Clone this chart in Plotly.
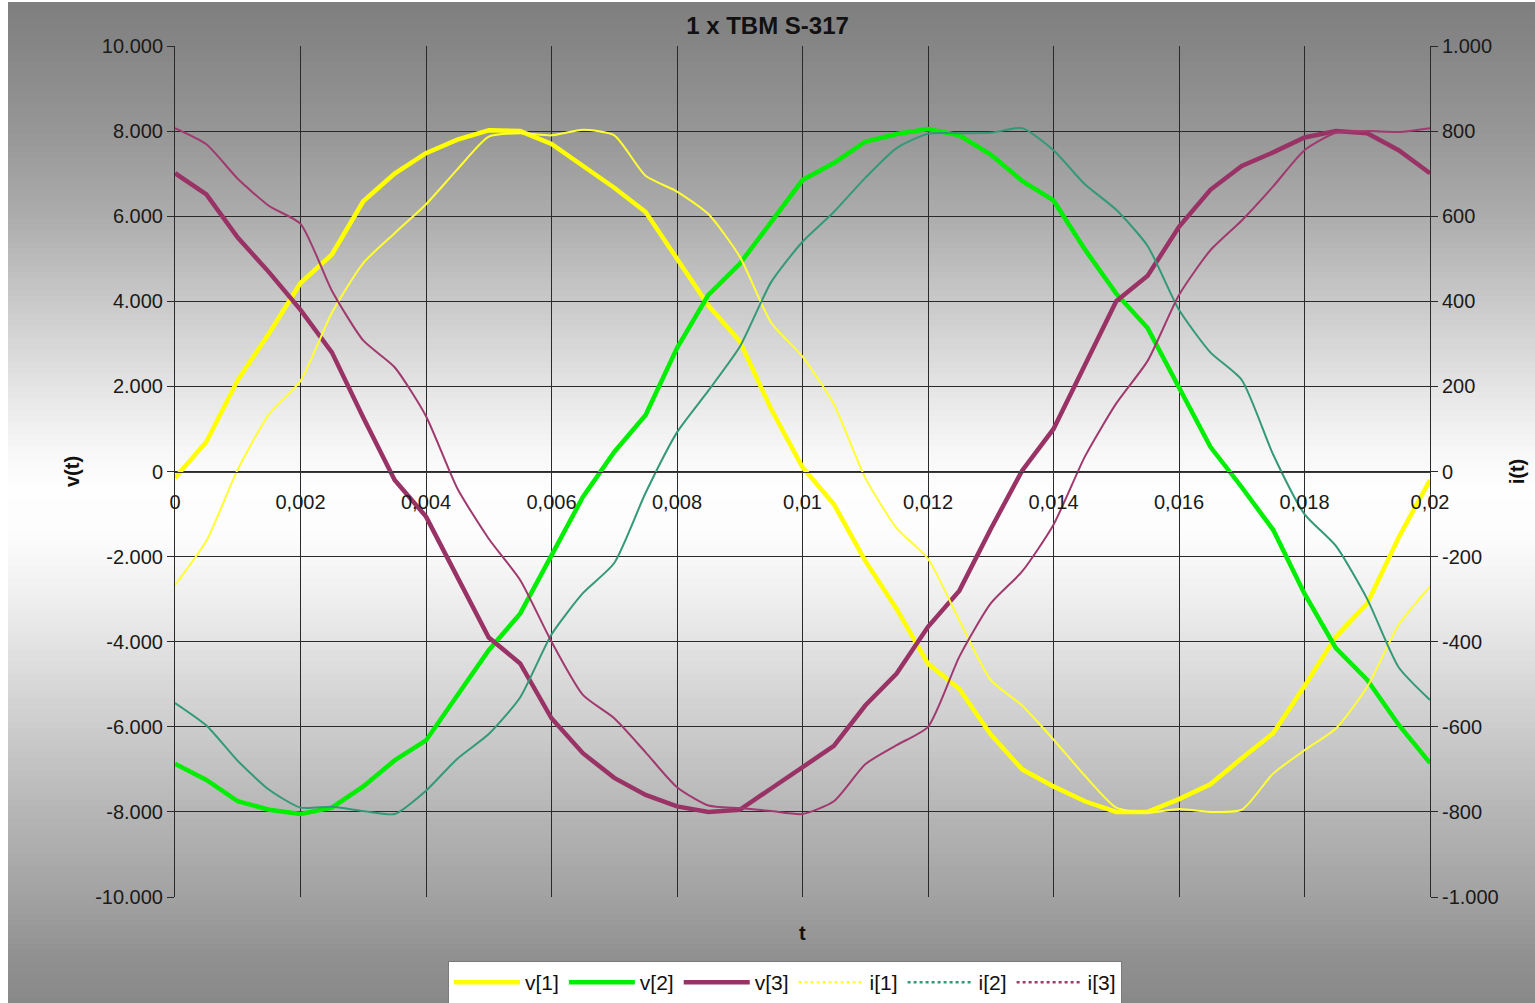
import plotly.graph_objects as go

# ---------------- data ----------------
t = [i * 0.0005 for i in range(41)]

v1 = [-150, 700, 2150, 3250, 4430, 5100, 6350, 7000, 7480, 7800, 8020,
      8000, 7700, 7200, 6670, 6100, 4980, 3900, 3060, 1470, 100,
      -770, -2100, -3230, -4520, -5110, -6180, -7000, -7400, -7750, -8000,
      -8000, -7700, -7350, -6740, -6150, -5040, -3880, -3100, -1550, -200]

v2 = [-6870, -7250, -7750, -7950, -8050, -7900, -7400, -6790, -6320, -5240, -4200,
      -3340, -1950, -600, 460, 1330, 2900, 4150, 4880, 5880, 6850,
      7250, 7750, 7930, 8050, 7900, 7450, 6830, 6370, 5220, 4180,
      3370, 1950, 580, -370, -1370, -2870, -4150, -4900, -5950, -6850]

v3 = [7010, 6510, 5500, 4680, 3800, 2800, 1270, -200, -1060, -2480, -3900,
      -4510, -5800, -6620, -7200, -7600, -7870, -8000, -7950, -7450, -6950,
      -6450, -5500, -4750, -3650, -2800, -1350, 20, 1000, 2500, 4000,
      4600, 5750, 6620, 7180, 7500, 7850, 8000, 7950, 7550, 7010]

i1 = [-267, -163, 5, 135, 213, 373, 490, 560, 628, 710, 787,
      795, 790, 803, 790, 695, 658, 605, 505, 350, 270,
      158, -15, -133, -205, -350, -490, -550, -630, -715, -790,
      -802, -793, -800, -795, -710, -655, -604, -506, -360, -270]

i2 = [-544, -597, -680, -748, -790, -788, -798, -805, -750, -675, -617,
      -531, -383, -286, -215, -50, 92, 190, 293, 445, 540,
      610, 690, 760, 794, 795, 796, 807, 755, 675, 615,
      530, 380, 280, 215, 40, -100, -175, -300, -460, -537]

i3 = [807, 769, 688, 624, 582, 425, 308, 245, 130, -40, -158,
      -255, -400, -525, -580, -660, -742, -785, -791, -798, -805,
      -775, -688, -643, -600, -435, -310, -235, -125, 35, 160,
      260, 415, 520, 590, 670, 755, 796, 800, 798, 807]

x_ticks = [0, 0.002, 0.004, 0.006, 0.008, 0.01, 0.012, 0.014, 0.016, 0.018, 0.02]
x_labels = ["0", "0,002", "0,004", "0,006", "0,008", "0,01", "0,012", "0,014", "0,016", "0,018", "0,02"]
v_ticks = [-10000, -8000, -6000, -4000, -2000, 0, 2000, 4000, 6000, 8000, 10000]
v_labels = ["-10.000", "-8.000", "-6.000", "-4.000", "-2.000", "0", "2.000", "4.000", "6.000", "8.000", "10.000"]
i_ticks = [-1000, -800, -600, -400, -200, 0, 200, 400, 600, 800, 1000]
i_labels = ["-1.000", "-800", "-600", "-400", "-200", "0", "200", "400", "600", "800", "1.000"]

v_names = ["v[1]", "v[2]", "v[3]"]
i_names = ["i[1]", "i[2]", "i[3]"]

# ---------------- styling ----------------
W, H = 1535, 1003
L, R, T, B = 175, 1430, 46, 897
FONT = "Liberation Sans, Arial, sans-serif"

v_colors = ["#ffff00", "#00ee00", "#993366"]
i_colors = ["#ffff33", "#339977", "#a03a6e"]

fig = go.Figure()

for name, ys, c in zip(v_names, [v1, v2, v3], v_colors):
    fig.add_trace(go.Scatter(x=t, y=ys, name=name, mode="lines",
                             line=dict(color=c, width=4.5), yaxis="y"))

for name, ys, c in zip(i_names, [i1, i2, i3], i_colors):
    fig.add_trace(go.Scatter(x=t, y=ys, name=name, mode="lines", showlegend=False,
                             line=dict(color=c, width=2, shape="spline", smoothing=0.6),
                             yaxis="y2"))
# legend entries for the current series (dotted sample, as in the reference legend)
for name, c in zip(i_names, i_colors):
    fig.add_trace(go.Scatter(x=[None], y=[None], name=name, mode="lines",
                             line=dict(color=c, width=2.5, dash="dot"), yaxis="y2"))

# ---------------- background gradient (bands) ----------------
prof = [(0, 126), (46, 134), (130, 150), (215, 172), (300, 200), (385, 228), (450, 247),
        (490, 254), (540, 252), (600, 238), (640, 228), (725, 205), (810, 182),
        (897, 162), (950, 146), (1003, 136)]


def gray(p):
    for (a, ga), (b, gb) in zip(prof[:-1], prof[1:]):
        if a <= p <= b:
            return ga + (gb - ga) * (p - a) / (b - a)
    return prof[-1][1]


def px2paper_x(px):
    return (px - L) / (R - L)


def px2paper_y(py):
    return (B - py) / (B - T)


shapes = []
step = 6
y0 = 2
while y0 < H:
    y1 = min(y0 + step, H)
    g = int(round(gray((y0 + y1) / 2)))
    col = f"rgb({g},{g},{g})"
    shapes.append(dict(type="rect", xref="paper", yref="paper", layer="below",
                       x0=px2paper_x(8), x1=px2paper_x(W),
                       y0=px2paper_y(y1 + 0.5), y1=px2paper_y(y0),
                       fillcolor=col, line=dict(width=0)))
    y0 = y1

fig.update_layout(
    width=W, height=H, autosize=False,
    margin=dict(l=L, r=W - R, t=T, b=H - B, pad=0, autoexpand=False),
    paper_bgcolor="white", plot_bgcolor="rgba(0,0,0,0)",
    font=dict(family=FONT, size=20, color="#1a1a1a"),
    shapes=shapes,
    title=dict(text="<b>1 x TBM S-317</b>", x=0.5, xanchor="center", xref="container",
               y=1 - 26 / H, yanchor="middle", yref="container",
               font=dict(family=FONT, size=24, color="#111")),
    xaxis=dict(range=[0, 0.02], tickvals=x_ticks, ticktext=x_labels,
               showgrid=True, gridcolor="#2a2a2a", gridwidth=1,
               zeroline=False, showline=True, linecolor="#3a3a3a", linewidth=1,
               anchor="free", position=0.5, automargin=False,
               ticks="outside", ticklen=12, tickcolor="rgba(0,0,0,0)",
               tickfont=dict(size=20, color="#1a1a1a")),
    yaxis=dict(range=[-10000, 10000], tickvals=v_ticks, ticktext=v_labels,
               showgrid=True, gridcolor="#2a2a2a", gridwidth=1, zeroline=False,
               showline=True, linecolor="#2a2a2a", linewidth=1, automargin=False,
               ticks="outside", ticklen=7, tickcolor="#2a2a2a",
               tickfont=dict(size=20, color="#1a1a1a"),
               title=dict(text="<b>v(t)</b>", standoff=10, font=dict(size=20, color="#111"))),
    yaxis2=dict(range=[-1000, 1000], tickvals=i_ticks, ticktext=i_labels,
                overlaying="y", side="right", showgrid=False, zeroline=False,
                showline=True, linecolor="#2a2a2a", linewidth=1, automargin=False,
                ticks="outside", ticklen=7, tickcolor="#2a2a2a",
                tickfont=dict(size=20, color="#1a1a1a"),
                title=dict(text="<b>i(t)</b>", standoff=12, font=dict(size=20, color="#111"))),
    legend=dict(orientation="h", x=px2paper_x(785), xanchor="center",
                y=px2paper_y(961), yanchor="top",
                bgcolor="white", bordercolor="#7a7a7a", borderwidth=1,
                font=dict(size=21, color="#111"), itemwidth=66,
                tracegroupgap=0),
    annotations=[dict(text="<b>t</b>", xref="paper", yref="paper",
                      x=px2paper_x(802), y=px2paper_y(933), showarrow=False,
                      xanchor="center", yanchor="middle",
                      font=dict(family=FONT, size=20, color="#111"))],
    showlegend=True,
)

fig.write_html("out.html", config={"displayModeBar": False},
               post_script="document.body.style.margin='0';document.body.style.overflow='hidden';")
